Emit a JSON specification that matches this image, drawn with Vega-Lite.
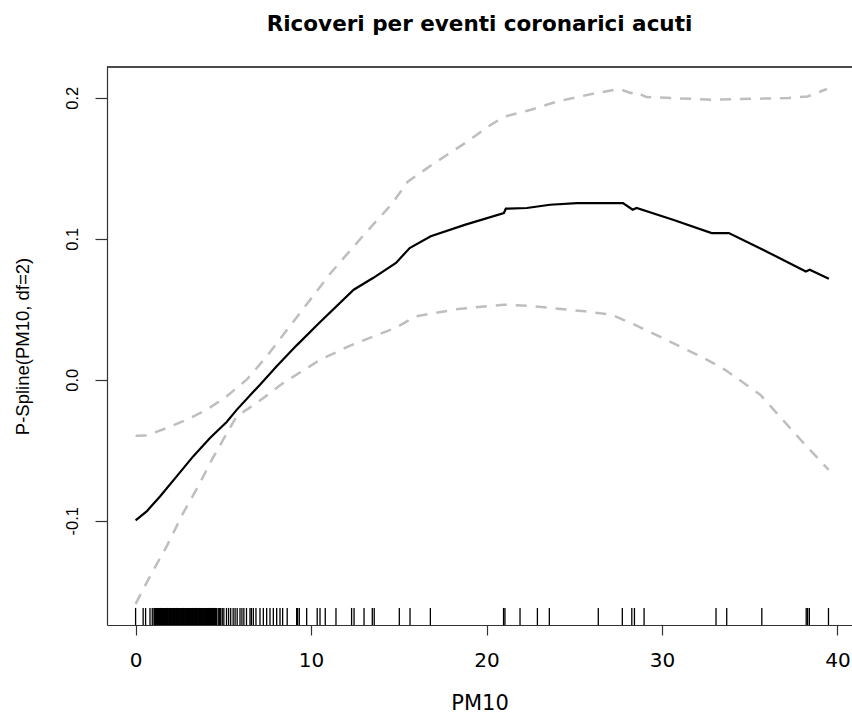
{
  "$schema": "https://vega.github.io/schema/vega-lite/v6.json",
  "width": 745,
  "height": 558,
  "autosize": {"type": "none"},
  "padding": {"left": 107, "top": 67, "right": 0, "bottom": 88},
  "background": "white",
  "title": {"text": "Ricoveri per eventi coronarici acuti", "font": "DejaVu Sans", "fontSize": 21.5, "fontWeight": "bold", "color": "#000000", "anchor": "middle", "offset": 31},
  "config": {
    "view": {"stroke": null},
    "axis": {"grid": false, "domain": true, "domainColor": "#333333", "domainWidth": 1.2, "tickColor": "#333333", "tickWidth": 1.2, "labelColor": "#000000", "titleColor": "#000000", "titleFontWeight": "normal", "labelFlush": false, "labelOverlap": false},
    "axisX": {"tickSize": 10, "labelFont": "DejaVu Sans", "labelFontSize": 20, "labelPadding": 15, "titleFont": "DejaVu Sans", "titleFontSize": 21, "titlePadding": 22},
    "axisY": {"tickSize": 12, "labelAngle": -90, "labelAlign": "center", "labelBaseline": "alphabetic", "labelPadding": 18, "labelFont": "Liberation Sans", "labelFontSize": 16.5, "titleFont": "Liberation Sans", "titleFontSize": 18.5, "titlePadding": 36, "titleBaseline": "alphabetic"}
  },
  "datasets": {
    "curves": [
      {"series": "upper", "pm10": 0, "value": -0.0397},
      {"series": "upper", "pm10": 0.63, "value": -0.0395},
      {"series": "upper", "pm10": 1.77, "value": -0.0343},
      {"series": "upper", "pm10": 2.91, "value": -0.0284},
      {"series": "upper", "pm10": 4.05, "value": -0.0213},
      {"series": "upper", "pm10": 5.19, "value": -0.0118},
      {"series": "upper", "pm10": 6.33, "value": 0.0},
      {"series": "upper", "pm10": 7.47, "value": 0.0165},
      {"series": "upper", "pm10": 8.49, "value": 0.0331},
      {"series": "upper", "pm10": 9.81, "value": 0.0544},
      {"series": "upper", "pm10": 11.12, "value": 0.0757},
      {"series": "upper", "pm10": 13.1, "value": 0.104},
      {"series": "upper", "pm10": 14.63, "value": 0.125},
      {"series": "upper", "pm10": 15.51, "value": 0.1405},
      {"series": "upper", "pm10": 17.04, "value": 0.1537},
      {"series": "upper", "pm10": 18.8, "value": 0.168},
      {"series": "upper", "pm10": 20.11, "value": 0.1797},
      {"series": "upper", "pm10": 20.99, "value": 0.1865},
      {"series": "upper", "pm10": 22.53, "value": 0.1915},
      {"series": "upper", "pm10": 24.06, "value": 0.1974},
      {"series": "upper", "pm10": 26.25, "value": 0.2033},
      {"series": "upper", "pm10": 27.57, "value": 0.2062},
      {"series": "upper", "pm10": 28.23, "value": 0.2033},
      {"series": "upper", "pm10": 28.44, "value": 0.2045},
      {"series": "upper", "pm10": 29.1, "value": 0.2005},
      {"series": "upper", "pm10": 32.83, "value": 0.1986},
      {"series": "upper", "pm10": 37.2, "value": 0.1998},
      {"series": "upper", "pm10": 38.3, "value": 0.2009},
      {"series": "upper", "pm10": 39.4, "value": 0.2062},
      {"series": "lower", "pm10": 0, "value": -0.159},
      {"series": "lower", "pm10": 0.82, "value": -0.1395},
      {"series": "lower", "pm10": 1.77, "value": -0.1182},
      {"series": "lower", "pm10": 2.71, "value": -0.0946},
      {"series": "lower", "pm10": 3.67, "value": -0.0733},
      {"series": "lower", "pm10": 4.24, "value": -0.0591},
      {"series": "lower", "pm10": 4.99, "value": -0.0426},
      {"series": "lower", "pm10": 5.76, "value": -0.026},
      {"series": "lower", "pm10": 6.9, "value": -0.0165},
      {"series": "lower", "pm10": 8.41, "value": -0.0024},
      {"series": "lower", "pm10": 10.5, "value": 0.014},
      {"series": "lower", "pm10": 12.2, "value": 0.024},
      {"series": "lower", "pm10": 14.85, "value": 0.037},
      {"series": "lower", "pm10": 15.95, "value": 0.0449},
      {"series": "lower", "pm10": 18.36, "value": 0.0501},
      {"series": "lower", "pm10": 20.99, "value": 0.0532},
      {"series": "lower", "pm10": 22.3, "value": 0.0525},
      {"series": "lower", "pm10": 25.59, "value": 0.0485},
      {"series": "lower", "pm10": 27.13, "value": 0.0461},
      {"series": "lower", "pm10": 28.44, "value": 0.039},
      {"series": "lower", "pm10": 30.63, "value": 0.026},
      {"series": "lower", "pm10": 32.39, "value": 0.0154},
      {"series": "lower", "pm10": 33.6, "value": 0.007},
      {"series": "lower", "pm10": 35.6, "value": -0.0106},
      {"series": "lower", "pm10": 37.9, "value": -0.0426},
      {"series": "lower", "pm10": 39.5, "value": -0.064},
      {"series": "fit", "pm10": 0, "value": -0.0998},
      {"series": "fit", "pm10": 0.63, "value": -0.0934},
      {"series": "fit", "pm10": 1.39, "value": -0.0828},
      {"series": "fit", "pm10": 2.34, "value": -0.0686},
      {"series": "fit", "pm10": 3.28, "value": -0.0544},
      {"series": "fit", "pm10": 4.24, "value": -0.0414},
      {"series": "fit", "pm10": 5.19, "value": -0.0300},
      {"series": "fit", "pm10": 5.76, "value": -0.0214},
      {"series": "fit", "pm10": 7.09, "value": -0.0035},
      {"series": "fit", "pm10": 8.04, "value": 0.0095},
      {"series": "fit", "pm10": 9.15, "value": 0.0240},
      {"series": "fit", "pm10": 10.46, "value": 0.0402},
      {"series": "fit", "pm10": 12.43, "value": 0.0638},
      {"series": "fit", "pm10": 13.53, "value": 0.0721},
      {"series": "fit", "pm10": 14.84, "value": 0.0828},
      {"series": "fit", "pm10": 15.62, "value": 0.0934},
      {"series": "fit", "pm10": 16.82, "value": 0.1017},
      {"series": "fit", "pm10": 18.8, "value": 0.110},
      {"series": "fit", "pm10": 20.99, "value": 0.1182},
      {"series": "fit", "pm10": 21.1, "value": 0.1213},
      {"series": "fit", "pm10": 22.3, "value": 0.1218},
      {"series": "fit", "pm10": 23.62, "value": 0.1241},
      {"series": "fit", "pm10": 25.15, "value": 0.1253},
      {"series": "fit", "pm10": 27.78, "value": 0.1253},
      {"series": "fit", "pm10": 28.33, "value": 0.1206},
      {"series": "fit", "pm10": 28.55, "value": 0.1218},
      {"series": "fit", "pm10": 30.63, "value": 0.1135},
      {"series": "fit", "pm10": 32.83, "value": 0.104},
      {"series": "fit", "pm10": 33.81, "value": 0.104},
      {"series": "fit", "pm10": 36.12, "value": 0.0899},
      {"series": "fit", "pm10": 38.2, "value": 0.0768},
      {"series": "fit", "pm10": 38.42, "value": 0.078},
      {"series": "fit", "pm10": 39.51, "value": 0.0716}
    ],
    "rug": [
      {"pm10": 0.0}, {"pm10": 0.43}, {"pm10": 0.57}, {"pm10": 0.82}, {"pm10": 0.95},
      {"pm10": 1.05}, {"pm10": 1.08}, {"pm10": 1.11}, {"pm10": 1.15}, {"pm10": 1.18}, {"pm10": 1.22}, {"pm10": 1.25}, {"pm10": 1.28}, {"pm10": 1.31}, {"pm10": 1.35},
      {"pm10": 1.38}, {"pm10": 1.42}, {"pm10": 1.45}, {"pm10": 1.48}, {"pm10": 1.52}, {"pm10": 1.55}, {"pm10": 1.58}, {"pm10": 1.62}, {"pm10": 1.65}, {"pm10": 1.69},
      {"pm10": 1.72}, {"pm10": 1.75}, {"pm10": 1.79}, {"pm10": 1.82}, {"pm10": 1.85}, {"pm10": 1.89}, {"pm10": 1.92}, {"pm10": 1.95}, {"pm10": 1.99}, {"pm10": 2.02},
      {"pm10": 2.06}, {"pm10": 2.09}, {"pm10": 2.12}, {"pm10": 2.16}, {"pm10": 2.19}, {"pm10": 2.22}, {"pm10": 2.26}, {"pm10": 2.29}, {"pm10": 2.33}, {"pm10": 2.36},
      {"pm10": 2.39}, {"pm10": 2.43}, {"pm10": 2.46}, {"pm10": 2.49}, {"pm10": 2.53}, {"pm10": 2.56}, {"pm10": 2.6}, {"pm10": 2.63}, {"pm10": 2.66}, {"pm10": 2.7},
      {"pm10": 2.73}, {"pm10": 2.76}, {"pm10": 2.8}, {"pm10": 2.83}, {"pm10": 2.87}, {"pm10": 2.9}, {"pm10": 2.93}, {"pm10": 2.97}, {"pm10": 3.0}, {"pm10": 3.03},
      {"pm10": 3.07}, {"pm10": 3.1}, {"pm10": 3.14}, {"pm10": 3.17}, {"pm10": 3.2}, {"pm10": 3.24}, {"pm10": 3.27}, {"pm10": 3.3}, {"pm10": 3.34}, {"pm10": 3.37},
      {"pm10": 3.41}, {"pm10": 3.44}, {"pm10": 3.47}, {"pm10": 3.51}, {"pm10": 3.54}, {"pm10": 3.57}, {"pm10": 3.61}, {"pm10": 3.64}, {"pm10": 3.68}, {"pm10": 3.71},
      {"pm10": 3.74}, {"pm10": 3.78}, {"pm10": 3.81}, {"pm10": 3.84}, {"pm10": 3.88}, {"pm10": 3.91}, {"pm10": 3.95}, {"pm10": 3.98}, {"pm10": 4.01}, {"pm10": 4.05},
      {"pm10": 4.08}, {"pm10": 4.11}, {"pm10": 4.15}, {"pm10": 4.18}, {"pm10": 4.22}, {"pm10": 4.25}, {"pm10": 4.28}, {"pm10": 4.32}, {"pm10": 4.35}, {"pm10": 4.38},
      {"pm10": 4.42}, {"pm10": 4.45}, {"pm10": 4.49}, {"pm10": 4.52}, {"pm10": 4.55}, {"pm10": 4.59}, {"pm10": 4.62},
      {"pm10": 4.71}, {"pm10": 4.78}, {"pm10": 4.85}, {"pm10": 4.94}, {"pm10": 5.03}, {"pm10": 5.18}, {"pm10": 5.3}, {"pm10": 5.42}, {"pm10": 5.56}, {"pm10": 5.67}, {"pm10": 5.79}, {"pm10": 5.95}, {"pm10": 6.06}, {"pm10": 6.17}, {"pm10": 6.32}, {"pm10": 6.52}, {"pm10": 6.6}, {"pm10": 6.71}, {"pm10": 6.86},
      {"pm10": 7.09}, {"pm10": 7.28}, {"pm10": 7.47}, {"pm10": 7.66}, {"pm10": 7.85}, {"pm10": 8.04}, {"pm10": 8.23}, {"pm10": 8.38}, {"pm10": 8.64},
      {"pm10": 9.18}, {"pm10": 9.23}, {"pm10": 9.33}, {"pm10": 9.75}, {"pm10": 10.35}, {"pm10": 10.51}, {"pm10": 10.81}, {"pm10": 11.42},
      {"pm10": 12.31}, {"pm10": 12.45}, {"pm10": 13.02}, {"pm10": 13.49}, {"pm10": 13.6}, {"pm10": 15.03}, {"pm10": 15.64}, {"pm10": 16.8},
      {"pm10": 20.97}, {"pm10": 21.05}, {"pm10": 21.91}, {"pm10": 22.9}, {"pm10": 23.58}, {"pm10": 26.37}, {"pm10": 27.74}, {"pm10": 28.28}, {"pm10": 28.43}, {"pm10": 28.98},
      {"pm10": 33.08}, {"pm10": 33.69}, {"pm10": 35.69}, {"pm10": 38.22}, {"pm10": 38.3}, {"pm10": 38.4}, {"pm10": 39.49}
    ]
  },
  "layer": [
    {
      "data": {"name": "curves"},
      "transform": [{"filter": "datum.series != 'fit'"}],
      "mark": {"type": "line", "color": "#bebebe", "strokeWidth": 2.5, "strokeDash": [11, 9]},
      "encoding": {
        "x": {"field": "pm10", "type": "quantitative", "title": "PM10", "scale": {"domain": [-1.63, 40.83], "nice": false, "zero": false}, "axis": {"values": [0, 10, 20, 30, 40]}},
        "y": {"field": "value", "type": "quantitative", "title": "P-Spline(PM10, df=2)", "scale": {"domain": [-0.174, 0.2218], "nice": false, "zero": false}, "axis": {"values": [-0.1, 0, 0.1, 0.2], "labelExpr": "datum.value < 0 ? '-' + format(-datum.value, '.1f') : format(datum.value, '.1f')"}},
        "detail": {"field": "series"}
      }
    },
    {
      "data": {"name": "curves"},
      "transform": [{"filter": "datum.series == 'fit'"}],
      "mark": {"type": "line", "color": "#000000", "strokeWidth": 2.2},
      "encoding": {
        "x": {"field": "pm10", "type": "quantitative", "title": "PM10", "scale": {"domain": [-1.63, 40.83], "nice": false, "zero": false}, "axis": {"values": [0, 10, 20, 30, 40]}},
        "y": {"field": "value", "type": "quantitative", "title": "P-Spline(PM10, df=2)", "scale": {"domain": [-0.174, 0.2218], "nice": false, "zero": false}, "axis": {"values": [-0.1, 0, 0.1, 0.2], "labelExpr": "datum.value < 0 ? '-' + format(-datum.value, '.1f') : format(datum.value, '.1f')"}}
      }
    },
    {
      "data": {"name": "rug"},
      "mark": {"type": "rule", "color": "#000000", "strokeWidth": 1.3},
      "encoding": {
        "x": {"field": "pm10", "type": "quantitative", "title": "PM10", "scale": {"domain": [-1.63, 40.83], "nice": false, "zero": false}, "axis": {"values": [0, 10, 20, 30, 40]}},
        "y": {"datum": -0.174, "type": "quantitative", "title": "P-Spline(PM10, df=2)", "scale": {"domain": [-0.174, 0.2218], "nice": false, "zero": false}, "axis": {"values": [-0.1, 0, 0.1, 0.2], "labelExpr": "datum.value < 0 ? '-' + format(-datum.value, '.1f') : format(datum.value, '.1f')"}},
        "y2": {"datum": -0.1619}
      }
    },
    {
      "data": {"values": [{"edge": "top"}]},
      "mark": {"type": "rule", "color": "#111111", "strokeWidth": 1.6},
      "encoding": {
        "y": {"datum": 0.2218, "type": "quantitative", "title": "P-Spline(PM10, df=2)", "scale": {"domain": [-0.174, 0.2218], "nice": false, "zero": false}, "axis": {"values": [-0.1, 0, 0.1, 0.2], "labelExpr": "datum.value < 0 ? '-' + format(-datum.value, '.1f') : format(datum.value, '.1f')"}}
      }
    }
  ]
}
